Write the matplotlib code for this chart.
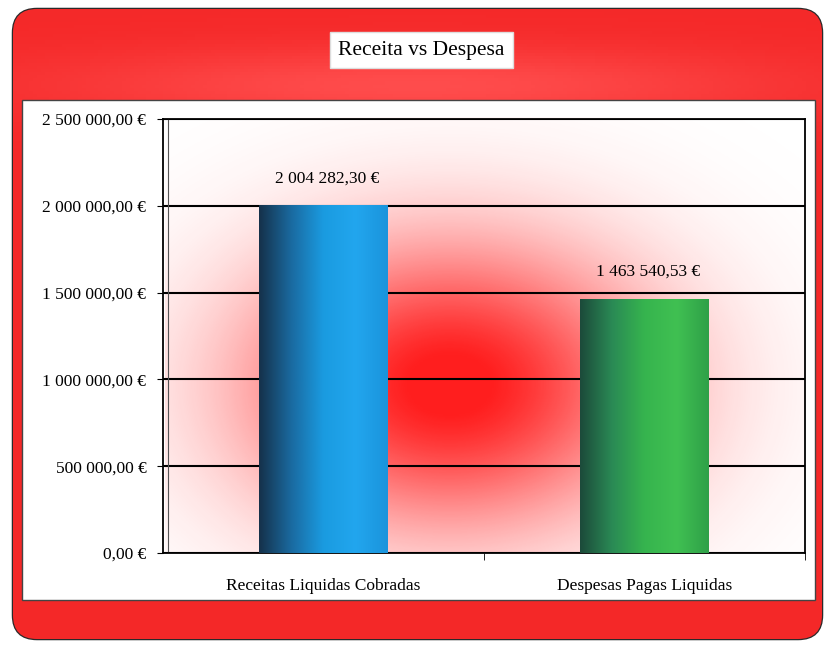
#!/usr/bin/env python3

import matplotlib
matplotlib.use('Agg')
import matplotlib.pyplot as plt
import numpy as np
from matplotlib.colors import LinearSegmentedColormap
from matplotlib.patches import FancyBboxPatch, Rectangle
from matplotlib.ticker import FuncFormatter, MultipleLocator

categories = ['Receitas Liquidas Cobradas', 'Despesas Pagas Liquidas']
values = [2004282.30, 1463540.53]
title = 'Receita vs Despesa'

W, H = 825, 645
plt.rcParams['font.family'] = ['Liberation Serif', 'DejaVu Serif']


def euro(v, pos=None):
    s = f'{v:,.2f}'.replace(',', ' ').replace('.', ',')
    return s + ' €'


fig = plt.figure(figsize=(W / 100, H / 100), dpi=100)
fig.patch.set_facecolor('white')

# background: red rounded frame, white panel, red glow
bg = fig.add_axes([0, 0, 1, 1])
bg.set_xlim(0, W)
bg.set_ylim(H, 0)
bg.axis('off')

frame = FancyBboxPatch((13, 9), 809, 630, boxstyle='round,pad=0,rounding_size=24',
                       facecolor='#f42a2a', edgecolor='#2a2a2a', lw=1.8, zorder=1)
bg.add_patch(frame)
yy = np.linspace(0, 1, 200)[:, None]
xx = np.linspace(0, 1, 200)[None, :]
light = np.exp(-((yy - 0.12) / 0.06) ** 2) * np.exp(-((xx - 0.5) / 0.45) ** 2)
frame_img = np.zeros((200, 200, 3))
frame_img[..., 0] = 0.96 + 0.04 * light
frame_img[..., 1] = 0.16 + 0.14 * light
frame_img[..., 2] = 0.16 + 0.14 * light
im = bg.imshow(frame_img, extent=[13, 822, 639, 9], aspect='auto', zorder=2)
im.set_clip_path(frame)

bg.add_patch(Rectangle((22, 100), 793, 500, facecolor='white',
                       edgecolor='#444444', lw=1.0, zorder=3))

gx = np.linspace(165, 805, 400)[None, :]
gy = np.linspace(117, 553, 300)[:, None]
d = ((gx - 450) / 210) ** 2 + ((gy - 385) / 150) ** 2
a = np.clip(1.05 * np.exp(-d * 1.1), 0, 1)
glow = np.zeros((300, 400, 4))
glow[..., 0] = 1.0
glow[..., 1] = 0.12
glow[..., 2] = 0.12
glow[..., 3] = a
bg.imshow(glow, extent=[165, 805, 553, 117], aspect='auto', zorder=4)

bg.text(W / 2 + 9, 50, title, ha='center', va='center', fontsize=15.5, zorder=6,
        bbox=dict(boxstyle='square,pad=0.4', facecolor='white', edgecolor='#dddddd'))

# main chart
ax = fig.add_axes([163 / W, (H - 553) / H, 642 / W, (553 - 119) / H])
ax.patch.set_alpha(0)
x = np.arange(len(categories))
bars = ax.bar(x, values, width=0.4, color='none', zorder=3)

cmaps = [
    LinearSegmentedColormap.from_list('b', ['#15314a', '#1a6aa0', '#1a9be0', '#22a6ee', '#1a94dc']),
    LinearSegmentedColormap.from_list('g', ['#1c4a3a', '#2a8a55', '#36b44e', '#40c052', '#2fa048']),
]
grad = np.linspace(0, 1, 256)[None, :]
for b, cm in zip(bars, cmaps):
    im = ax.imshow(grad, cmap=cm, aspect='auto', zorder=3,
                   extent=[b.get_x(), b.get_x() + b.get_width(), 0, b.get_height()])
    im.set_clip_path(b)

for xi, v in zip(x, values):
    ax.text(xi + 0.01, v + 155000, euro(v), ha='center', va='center', fontsize=12.5, zorder=5)

ax.set_xlim(-0.5, 1.5)
ax.set_ylim(0, 2500000)
ax.yaxis.set_major_locator(MultipleLocator(500000))
ax.yaxis.set_major_formatter(FuncFormatter(euro))
ax.grid(axis='y', color='black', lw=1.5, zorder=2)
ax.set_axisbelow(True)
ax.set_xticks(x)
ax.set_xticklabels(categories, fontsize=12.5)
ax.set_xticks([0.5, 1.5], minor=True)
ax.tick_params(axis='x', which='major', length=0, pad=18)
ax.tick_params(axis='x', which='minor', length=5)
ax.tick_params(axis='y', length=4, labelsize=12.5, pad=8)
for s in ax.spines.values():
    s.set_color('black')
    s.set_linewidth(1.3)
ax.axvline(-0.485, color='#555555', lw=0.8, zorder=2)

fig.savefig('out.png', dpi=100)
